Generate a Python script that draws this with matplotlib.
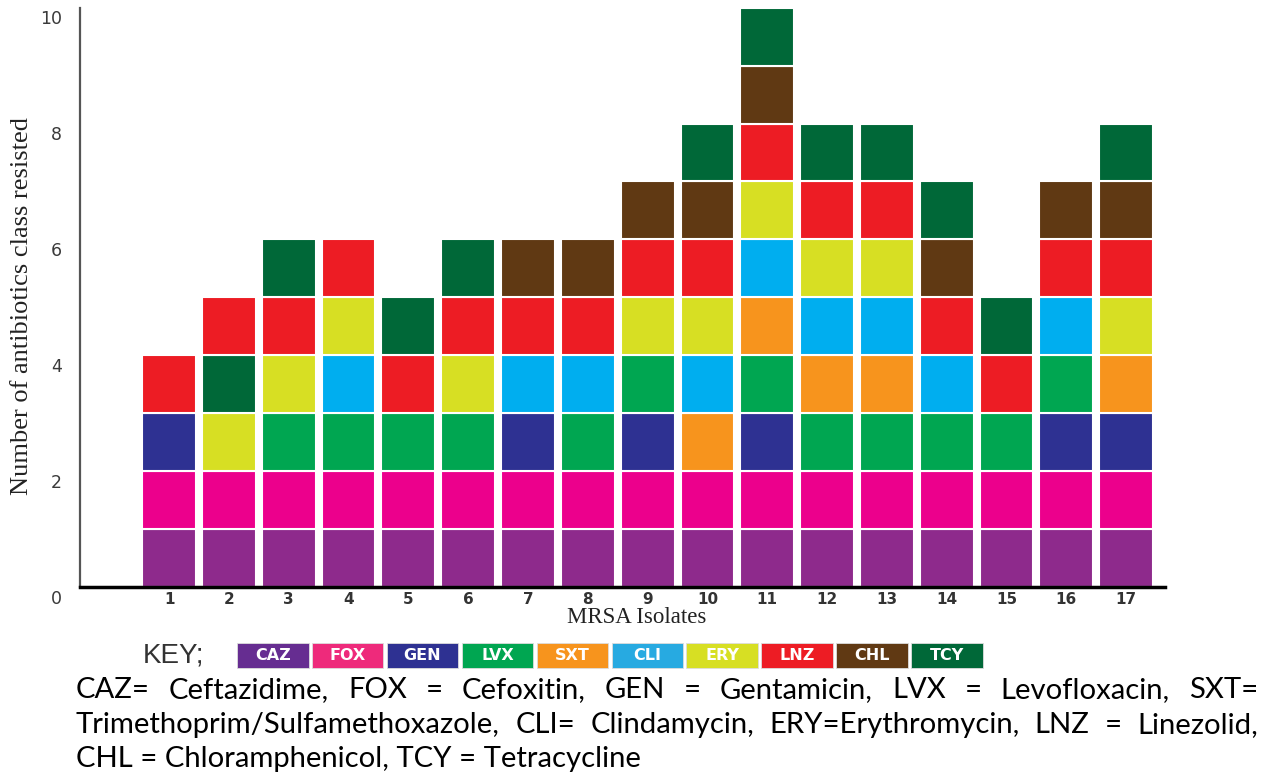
import matplotlib
matplotlib.use("Agg")
import matplotlib.pyplot as plt
from matplotlib.patches import Rectangle
from matplotlib.transforms import ScaledTranslation

# --- data ---
isolates = list(range(1, 18))
classes = ["CAZ", "FOX", "GEN", "LVX", "SXT", "CLI", "ERY", "LNZ", "CHL", "TCY"]
bar_colors = ["#8e2a8c", "#ec008c", "#2e3192", "#00a651", "#f7941d",
              "#00aeef", "#d7df23", "#ed1c24", "#603913", "#006838"]
key_colors = ["#662d91", "#ee2a7b", "#2e3192", "#00a651", "#f7941d",
              "#27aae1", "#d7df23", "#ed1c24", "#603913", "#006838"]

# resistance profile of each isolate, bottom to top
profiles = [
    ["CAZ", "FOX", "GEN", "LNZ"],
    ["CAZ", "FOX", "ERY", "TCY", "LNZ"],
    ["CAZ", "FOX", "LVX", "ERY", "LNZ", "TCY"],
    ["CAZ", "FOX", "LVX", "CLI", "ERY", "LNZ"],
    ["CAZ", "FOX", "LVX", "LNZ", "TCY"],
    ["CAZ", "FOX", "LVX", "ERY", "LNZ", "TCY"],
    ["CAZ", "FOX", "GEN", "CLI", "LNZ", "CHL"],
    ["CAZ", "FOX", "LVX", "CLI", "LNZ", "CHL"],
    ["CAZ", "FOX", "GEN", "LVX", "ERY", "LNZ", "CHL"],
    ["CAZ", "FOX", "SXT", "CLI", "ERY", "LNZ", "CHL", "TCY"],
    ["CAZ", "FOX", "GEN", "LVX", "SXT", "CLI", "ERY", "LNZ", "CHL", "TCY"],
    ["CAZ", "FOX", "LVX", "SXT", "CLI", "ERY", "LNZ", "TCY"],
    ["CAZ", "FOX", "LVX", "SXT", "CLI", "ERY", "LNZ", "TCY"],
    ["CAZ", "FOX", "LVX", "CLI", "LNZ", "CHL", "TCY"],
    ["CAZ", "FOX", "LVX", "LNZ", "TCY"],
    ["CAZ", "FOX", "GEN", "LVX", "CLI", "LNZ", "CHL"],
    ["CAZ", "FOX", "GEN", "SXT", "ERY", "LNZ", "CHL", "TCY"],
]

caption_lines = [
    "CAZ= Ceftazidime, FOX = Cefoxitin, GEN = Gentamicin, LVX = Levofloxacin, SXT=",
    "Trimethoprim/Sulfamethoxazole, CLI= Clindamycin, ERY=Erythromycin, LNZ = Linezolid,",
    "CHL = Chloramphenicol, TCY = Tetracycline",
]

W, H = 1263, 780


def fx(px):
    return px / W


def fy(py):
    return 1 - py / H


color_of = dict(zip(classes, bar_colors))

fig = plt.figure(figsize=(W / 100, H / 100), dpi=100)
ax = fig.add_axes([fx(80), fy(587), (1165 - 80) / W, (587 - 7.7) / H])

for x, prof in zip(isolates, profiles):
    for level, cls in enumerate(prof):
        ax.bar(x, 1, bottom=level, width=0.9, color=color_of[cls],
               edgecolor="white", linewidth=1.5)

ax.set_xlim(-0.49, 17.65)
ax.set_ylim(0, 10)
ax.spines["top"].set_visible(False)
ax.spines["right"].set_visible(False)
ax.spines["left"].set_color("#555555")
ax.spines["left"].set_linewidth(1.6)
ax.spines["bottom"].set_color("black")
ax.spines["bottom"].set_linewidth(2.5)

ax.set_yticks([0, 2, 4, 6, 8, 10])
ax.set_xticks(isolates)
ax.tick_params(axis="y", length=0, pad=13, labelsize=12.5, labelcolor="#3a3a3a")
ax.tick_params(axis="x", length=0, pad=3.5, labelsize=11, labelcolor="#333333")
for lab in ax.get_xticklabels():
    lab.set_fontweight("bold")
# y labels sit a bit lower than their values in the original
shift = ScaledTranslation(0, -0.095, fig.dpi_scale_trans)
for lab in ax.get_yticklabels():
    lab.set_transform(lab.get_transform() + shift)

fig.text(fx(22), fy(306), "Number of antibiotics class resisted", rotation=90,
         ha="center", va="center", fontsize=19, family="Liberation Serif",
         color="#222222")
fig.text(fx(637), fy(623), "MRSA Isolates", ha="center", va="baseline",
         fontsize=16.5, family="Liberation Serif", color="#222222")

# key row
fig.text(fx(143), fy(656), "KEY;", ha="left", va="center", fontsize=20,
         family="Liberation Sans", color="#333333")
for j, cls in enumerate(classes):
    x0 = 237 + j * 74.9
    fig.patches.append(Rectangle((fx(x0), fy(668)), 71.5 / W, 25 / H,
                                 transform=fig.transFigure,
                                 facecolor=key_colors[j], edgecolor="#dddddd",
                                 linewidth=0.6))
    fig.text(fx(x0 + 35.75), fy(655.5), cls, ha="center", va="center",
             fontsize=11.5, fontweight="heavy", family="DejaVu Sans",
             color="white")

# caption, justified like the source document
renderer = fig.canvas.get_renderer()
cap_font = "Lato"
probe = fig.text(0, 0, caption_lines[2], fontsize=16, family=cap_font)
w3 = probe.get_window_extent(renderer).width
probe.remove()
cap_size = 16 * 567 / w3

left, right = 76, 1258
baselines = [698, 733, 767]
for k, line in enumerate(caption_lines):
    if k == len(caption_lines) - 1:
        fig.text(fx(left), fy(baselines[k]), line, ha="left", va="baseline",
                 fontsize=cap_size, family=cap_font, color="black")
        continue
    words = line.split(" ")
    texts = [fig.text(0, fy(baselines[k]), w, ha="left", va="baseline",
                      fontsize=cap_size, family=cap_font, color="black")
             for w in words]
    widths = [t.get_window_extent(renderer).width for t in texts]
    gap = (right - left - sum(widths)) / (len(words) - 1)
    pos = left
    for t, w in zip(texts, widths):
        t.set_x(fx(pos))
        pos += w + gap

fig.savefig("out.png", dpi=100)
